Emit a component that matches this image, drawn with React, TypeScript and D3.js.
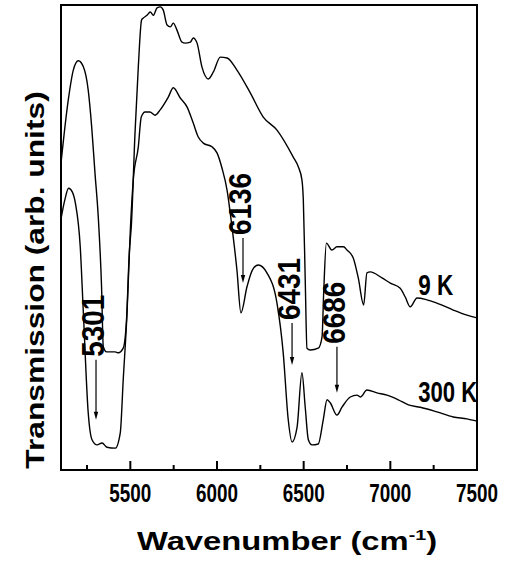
import React from "react";
import * as d3 from "d3";

// wavenumber (cm-1) / transmission (arb. units)
const wn9K = [5100, 5142, 5171, 5200, 5229, 5257, 5277, 5296, 5315, 5334, 5344, 5363, 5412, 5431, 5459, 5478, 5494, 5506, 5527, 5546, 5565, 5575, 5596, 5615, 5633, 5654, 5673, 5690, 5712, 5731, 5748, 5769, 5798, 5817, 5846, 5863, 5885, 5913, 5950, 5979, 6019, 6058, 6115, 6192, 6267, 6346, 6440, 6469, 6490, 6498, 6509, 6519, 6538, 6584, 6606, 6616, 6631, 6663, 6692, 6730, 6750, 6786, 6815, 6846, 6865, 6884, 6952, 7000, 7057, 7086, 7115, 7154, 7211, 7269, 7363, 7442, 7500];
const tr9K = [66.0, 79.6, 86.0, 88.0, 86.7, 81.7, 73.8, 63.9, 54.4, 39.4, 26.5, 25.4, 25.4, 25.2, 26.2, 32.3, 46.7, 52.7, 72.5, 86.7, 96.8, 97.2, 97.8, 98.5, 97.8, 99.4, 99.6, 98.9, 95.7, 95.3, 96.1, 94.6, 92.0, 91.8, 92.0, 92.9, 91.8, 86.7, 84.1, 85.6, 88.8, 88.6, 86.0, 81.1, 75.9, 73.1, 67.3, 65.2, 62.4, 58.1, 40.9, 26.2, 25.8, 26.2, 28.6, 38.7, 48.8, 47.3, 48.0, 48.0, 47.3, 45.6, 41.3, 35.5, 42.4, 42.6, 41.3, 40.2, 39.1, 37.2, 35.1, 37.0, 36.6, 35.9, 34.4, 33.3, 32.7];

const wn300K = [5100, 5122, 5144, 5165, 5183, 5211, 5229, 5257, 5279, 5308, 5337, 5365, 5413, 5442, 5459, 5481, 5500, 5517, 5546, 5563, 5585, 5613, 5642, 5671, 5719, 5748, 5788, 5827, 5863, 5892, 5921, 5971, 6000, 6029, 6058, 6083, 6115, 6138, 6173, 6204, 6238, 6288, 6346, 6382, 6411, 6433, 6462, 6490, 6509, 6527, 6548, 6584, 6613, 6635, 6654, 6692, 6721, 6769, 6808, 6827, 6865, 6923, 6981, 7046, 7104, 7173, 7269, 7363, 7442, 7500];
const tr300K = [54.0, 58.1, 60.6, 59.8, 57.4, 48.0, 33.8, 12.3, 6.5, 5.4, 5.8, 4.9, 4.7, 8.0, 19.4, 33.8, 51.6, 62.4, 69.5, 75.9, 77.0, 77.0, 76.3, 77.4, 80.2, 82.2, 80.0, 78.1, 74.6, 71.6, 70.3, 69.5, 68.2, 64.9, 60.2, 53.3, 43.0, 33.8, 39.4, 43.0, 44.1, 42.4, 35.9, 25.2, 10.8, 6.0, 9.2, 20.9, 13.5, 6.5, 5.4, 5.6, 10.8, 15.1, 14.4, 11.8, 13.5, 15.7, 16.1, 15.7, 17.2, 16.6, 16.1, 15.1, 14.0, 13.5, 12.5, 11.4, 11.0, 10.5];

// peak annotations: label, arrow position, arrow top / tip (transmission units)
const peakLabels = ["5301", "6136", "6431", "6686"];
const peakArrowWn = [5302, 6150, 6433, 6692];
const peakArrowTop = [23.7, 49.9, 31.6, 26.5];
const peakArrowTip = [10.8, 40.2, 22.6, 16.6];

const seriesLabels = ["9 K", "300 K"];
const seriesLabelWn = [7161, 7161];
const seriesLabelTr = [37.6, 14.6];

const majorTicks = [5500, 6000, 6500, 7000, 7500];
const minorTicks = [5250, 5750, 6250, 6750, 7250];

const FONT = "'Liberation Sans', Arial, Helvetica, sans-serif";

export default function App() {
  const width = 508;
  const height = 566;
  const margin = { top: 5, right: 31, bottom: 96, left: 61 };

  const x = d3
    .scaleLinear()
    .domain([5100, 7500])
    .range([margin.left, width - margin.right]);
  const y = d3
    .scaleLinear()
    .domain([0, 100])
    .range([height - margin.bottom, margin.top]);

  const makePath = (wn: number[], tr: number[]) =>
    d3
      .line<[number, number]>()
      .x((d) => x(d[0]))
      .y((d) => y(d[1]))
      .curve(d3.curveMonotoneX)(wn.map((w, i) => [w, tr[i]] as [number, number]));

  const path9K = makePath(wn9K, tr9K);
  const path300K = makePath(wn300K, tr300K);

  const y0 = y(0);
  const [x0, x1] = x.range();

  return (
    <svg
      width={width}
      height={height}
      style={{ position: "absolute", left: 0, top: 0, background: "#fff" }}
      fontFamily={FONT}
    >
      <rect x={0} y={0} width={width} height={height} fill="#fff" />

      {/* spectra */}
      <path d={path9K || ""} fill="none" stroke="#000" strokeWidth={1.4} />
      <path d={path300K || ""} fill="none" stroke="#000" strokeWidth={1.4} />

      {/* frame */}
      <rect
        x={x0}
        y={y(100)}
        width={x1 - x0}
        height={y0 - y(100)}
        fill="none"
        stroke="#000"
        strokeWidth={2}
      />

      {/* bottom ticks, pointing inward */}
      {majorTicks.map((t) => (
        <g key={"M" + t}>
          <line x1={x(t)} x2={x(t)} y1={y0} y2={y0 - 9} stroke="#000" strokeWidth={2} />
          <text
            x={x(t)}
            y={y0 + 32}
            textAnchor="middle"
            fontSize={25}
            fontWeight="bold"
            textLength={42}
            lengthAdjust="spacingAndGlyphs"
          >
            {t}
          </text>
        </g>
      ))}
      {minorTicks.map((t) => (
        <line key={"m" + t} x1={x(t)} x2={x(t)} y1={y0} y2={y0 - 5} stroke="#000" strokeWidth={2} />
      ))}

      {/* x axis title */}
      <g transform={`translate(${(x0 + x1) / 2 + 18},550) scale(1.31,1)`}>
        <text textAnchor="middle" fontSize={25} fontWeight="bold">
          Wavenumber (cm
          <tspan dy={-10} fontSize={15}>-1</tspan>
          <tspan dy={10}>)</tspan>
        </text>
      </g>

      {/* y axis title */}
      <g transform={`translate(44,280) rotate(-90) scale(1.27,1)`}>
        <text textAnchor="middle" fontSize={25} fontWeight="bold">
          Transmission (arb. units)
        </text>
      </g>

      {/* peak arrows and labels */}
      {peakLabels.map((lab, i) => {
        const ax = x(peakArrowWn[i]);
        const top = y(peakArrowTop[i]);
        const tip = y(peakArrowTip[i]);
        return (
          <g key={lab}>
            <line x1={ax} x2={ax} y1={top} y2={tip - 6} stroke="#000" strokeWidth={1.2} />
            <path
              d={`M${ax - 2.2},${tip - 8} L${ax + 2.2},${tip - 8} L${ax},${tip} Z`}
              fill="#000"
            />
            <text
              transform={`translate(${ax + 8},${top - 3}) rotate(-90)`}
              fontSize={32}
              fontWeight="bold"
              textLength={62}
              lengthAdjust="spacingAndGlyphs"
            >
              {lab}
            </text>
          </g>
        );
      })}

      {/* temperature labels */}
      {seriesLabels.map((lab, i) => (
        <text
          key={lab}
          x={x(seriesLabelWn[i])}
          y={y(seriesLabelTr[i])}
          fontSize={29}
          fontWeight="bold"
          textLength={i === 0 ? 35 : 59}
          lengthAdjust="spacingAndGlyphs"
        >
          {lab}
        </text>
      ))}
    </svg>
  );
}
